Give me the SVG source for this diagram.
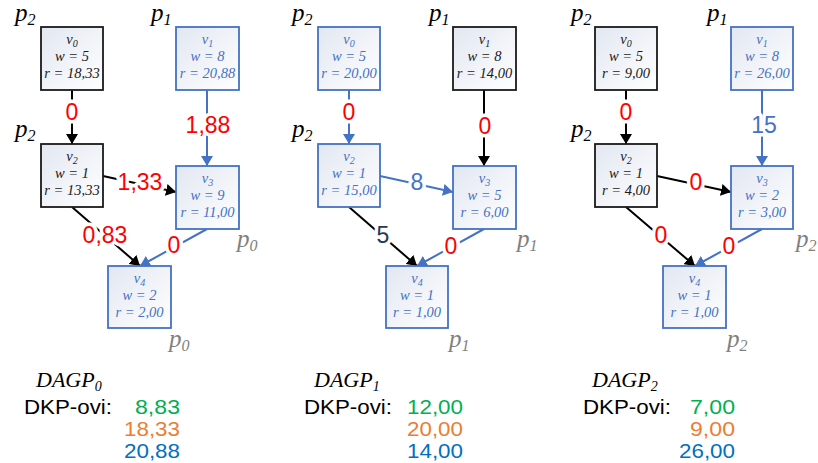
<svg xmlns="http://www.w3.org/2000/svg" width="818" height="463" viewBox="0 0 818 463">
<defs>
<linearGradient id="fill" x1="0" y1="0" x2="1" y2="1">
<stop offset="0" stop-color="#E2E7F1"/>
<stop offset="1" stop-color="#FFFFFF"/>
</linearGradient>
<marker id="ab" markerUnits="userSpaceOnUse" markerWidth="12" markerHeight="12" refX="10" refY="6" orient="auto"><path d="M0,0 L10,6 L0,12 z" fill="#000"/></marker>
<marker id="au" markerUnits="userSpaceOnUse" markerWidth="12" markerHeight="12" refX="10" refY="6" orient="auto"><path d="M0,0 L10,6 L0,12 z" fill="#4472C4"/></marker>
<style>
.node rect{fill:url(#fill);stroke-width:1.8}
.k rect{stroke:#1a1a1a}
.u rect{stroke:#4472C4}
.node text{font-family:"Liberation Serif",serif;font-style:italic;font-size:14.5px;text-anchor:middle}
.k text{fill:#1a1a1a}
.u text{fill:#4472C4}
.sub{font-size:10px}
.ek{stroke:#000;stroke-width:2;fill:none;marker-end:url(#ab)}
.eu{stroke:#4472C4;stroke-width:2;fill:none;marker-end:url(#au)}
.lbl{font-family:"Liberation Sans",Arial,sans-serif;font-size:23px;text-anchor:middle;stroke:#fff;stroke-width:7;stroke-linejoin:round;paint-order:stroke}
.red{fill:#FF0000}
.blu{fill:#4472C4}
.nav{fill:#243858}
.p{font-family:"Liberation Serif",serif;font-style:italic;font-size:25px}
.pk{fill:#000}
.pg{fill:#808080}
.ps{font-size:16px}
.dag{font-family:"Liberation Serif",serif;font-style:italic;font-size:22px;fill:#000}
.dks{font-size:14px}
.dkp{font-family:"Liberation Sans",Arial,sans-serif;font-size:20px;fill:#000}
.val{font-family:"Liberation Sans",Arial,sans-serif;font-size:20px;text-anchor:end}
.g{fill:#00B050}
.o{fill:#ED7D31}
.b{fill:#0070C0}
</style>
</defs>
<rect width="818" height="463" fill="#fff"/>

<g id="connectors">
<path class="ek" d="M72 90 V144"/>
<path class="eu" d="M207 90 V166"/>
<path class="ek" d="M103 176 L176 192"/>
<path class="ek" d="M72 207 L140 266"/>
<path class="eu" d="M207 229 L140 266"/>
<path class="eu" d="M349 90 V144"/>
<path class="ek" d="M484 90 V166"/>
<path class="eu" d="M380 176 L453 192"/>
<path class="ek" d="M349 207 L417 266"/>
<path class="eu" d="M484 229 L417 266"/>
<path class="ek" d="M626 90 V144"/>
<path class="eu" d="M762 90 V166"/>
<path class="ek" d="M657 176 L731 192"/>
<path class="ek" d="M626 207 L695 266"/>
<path class="eu" d="M762 229 L695 266"/>
<g id="edge-labels">
<text class="lbl red" x="72" y="120">0</text>
<text class="lbl red" x="208" y="133">1,88</text>
<text class="lbl red" x="140" y="190">1,33</text>
<text class="lbl red" x="105" y="243">0,83</text>
<text class="lbl red" x="174" y="253">0</text>
<text class="lbl red" x="349" y="120">0</text>
<text class="lbl red" x="485" y="134">0</text>
<text class="lbl blu" x="417" y="190">8</text>
<text class="lbl nav" x="383" y="243">5</text>
<text class="lbl red" x="451" y="254">0</text>
<text class="lbl red" x="626" y="120">0</text>
<text class="lbl blu" x="764" y="133">15</text>
<text class="lbl red" x="696" y="190">0</text>
<text class="lbl red" x="661" y="243">0</text>
<text class="lbl red" x="729" y="254">0</text>
</g>
</g>

<g id="d0-v0" class="node k" transform="translate(41,27)"><rect width="62" height="63"/>
<text x="31" y="17">v<tspan class="sub" dy="3">0</tspan></text><text x="31" y="34">w = 5</text><text x="31" y="51">r = 18,33</text></g>
<g id="d0-v1" class="node u" transform="translate(176,27)"><rect width="63" height="63"/>
<text x="31.5" y="17">v<tspan class="sub" dy="3">1</tspan></text><text x="31.5" y="34">w = 8</text><text x="31.5" y="51">r = 20,88</text></g>
<g id="d0-v2" class="node k" transform="translate(41,144)"><rect width="62" height="63"/>
<text x="31" y="17">v<tspan class="sub" dy="3">2</tspan></text><text x="31" y="34">w = 1</text><text x="31" y="51">r = 13,33</text></g>
<g id="d0-v3" class="node u" transform="translate(176,166)"><rect width="63" height="63"/>
<text x="31.5" y="17">v<tspan class="sub" dy="3">3</tspan></text><text x="31.5" y="34">w = 9</text><text x="31.5" y="51">r = 11,00</text></g>
<g id="d0-v4" class="node u" transform="translate(108,266)"><rect width="63" height="62"/>
<text x="31.5" y="17">v<tspan class="sub" dy="3">4</tspan></text><text x="31.5" y="34">w = 2</text><text x="31.5" y="51">r = 2,00</text></g>

<g id="d1-v0" class="node u" transform="translate(318,27)"><rect width="62" height="63"/>
<text x="31" y="17">v<tspan class="sub" dy="3">0</tspan></text><text x="31" y="34">w = 5</text><text x="31" y="51">r = 20,00</text></g>
<g id="d1-v1" class="node k" transform="translate(453,27)"><rect width="63" height="63"/>
<text x="31.5" y="17">v<tspan class="sub" dy="3">1</tspan></text><text x="31.5" y="34">w = 8</text><text x="31.5" y="51">r = 14,00</text></g>
<g id="d1-v2" class="node u" transform="translate(318,144)"><rect width="62" height="63"/>
<text x="31" y="17">v<tspan class="sub" dy="3">2</tspan></text><text x="31" y="34">w = 1</text><text x="31" y="51">r = 15,00</text></g>
<g id="d1-v3" class="node u" transform="translate(453,166)"><rect width="63" height="63"/>
<text x="31.5" y="17">v<tspan class="sub" dy="3">3</tspan></text><text x="31.5" y="34">w = 5</text><text x="31.5" y="51">r = 6,00</text></g>
<g id="d1-v4" class="node u" transform="translate(386,266)"><rect width="62" height="62"/>
<text x="31" y="17">v<tspan class="sub" dy="3">4</tspan></text><text x="31" y="34">w = 1</text><text x="31" y="51">r = 1,00</text></g>

<g id="d2-v0" class="node k" transform="translate(595,27)"><rect width="62" height="63"/>
<text x="31" y="17">v<tspan class="sub" dy="3">0</tspan></text><text x="31" y="34">w = 5</text><text x="31" y="51">r = 9,00</text></g>
<g id="d2-v1" class="node u" transform="translate(731,27)"><rect width="62" height="63"/>
<text x="31" y="17">v<tspan class="sub" dy="3">1</tspan></text><text x="31" y="34">w = 8</text><text x="31" y="51">r = 26,00</text></g>
<g id="d2-v2" class="node k" transform="translate(595,144)"><rect width="62" height="63"/>
<text x="31" y="17">v<tspan class="sub" dy="3">2</tspan></text><text x="31" y="34">w = 1</text><text x="31" y="51">r = 4,00</text></g>
<g id="d2-v3" class="node u" transform="translate(731,166)"><rect width="62" height="63"/>
<text x="31" y="17">v<tspan class="sub" dy="3">3</tspan></text><text x="31" y="34">w = 2</text><text x="31" y="51">r = 3,00</text></g>
<g id="d2-v4" class="node u" transform="translate(663,266)"><rect width="63" height="62"/>
<text x="31.5" y="17">v<tspan class="sub" dy="3">4</tspan></text><text x="31.5" y="34">w = 1</text><text x="31.5" y="51">r = 1,00</text></g>

<g id="proc-labels">
<text class="p pk" x="15" y="21">p<tspan class="ps" dy="4">2</tspan></text>
<text class="p pk" x="151" y="21">p<tspan class="ps" dy="4">1</tspan></text>
<text class="p pk" x="15" y="137">p<tspan class="ps" dy="4">2</tspan></text>
<text class="p pg" x="237" y="247">p<tspan class="ps" dy="4">0</tspan></text>
<text class="p pg" x="169" y="347">p<tspan class="ps" dy="4">0</tspan></text>

<text class="p pk" x="292" y="21">p<tspan class="ps" dy="4">2</tspan></text>
<text class="p pk" x="429" y="21">p<tspan class="ps" dy="4">1</tspan></text>
<text class="p pk" x="292" y="137">p<tspan class="ps" dy="4">2</tspan></text>
<text class="p pg" x="517" y="247">p<tspan class="ps" dy="4">1</tspan></text>
<text class="p pg" x="449" y="347">p<tspan class="ps" dy="4">1</tspan></text>

<text class="p pk" x="571" y="21">p<tspan class="ps" dy="4">2</tspan></text>
<text class="p pk" x="707" y="21">p<tspan class="ps" dy="4">1</tspan></text>
<text class="p pk" x="571" y="137">p<tspan class="ps" dy="4">2</tspan></text>
<text class="p pg" x="796" y="247">p<tspan class="ps" dy="4">2</tspan></text>
<text class="p pg" x="727" y="347">p<tspan class="ps" dy="4">2</tspan></text>
</g>

<g id="summary-0">
<text class="dag" x="36" y="387">DAGP<tspan class="dks" dy="4">0</tspan></text>
<text class="dkp" x="24" y="414" textLength="88" lengthAdjust="spacingAndGlyphs">DKP-ovi:</text>
<text class="val g" x="180" y="414" textLength="45" lengthAdjust="spacingAndGlyphs">8,83</text>
<text class="val o" x="180" y="436" textLength="56" lengthAdjust="spacingAndGlyphs">18,33</text>
<text class="val b" x="180" y="458" textLength="56" lengthAdjust="spacingAndGlyphs">20,88</text>
</g>
<g id="summary-1">
<text class="dag" x="314" y="387">DAGP<tspan class="dks" dy="4">1</tspan></text>
<text class="dkp" x="304" y="414" textLength="88" lengthAdjust="spacingAndGlyphs">DKP-ovi:</text>
<text class="val g" x="463" y="414" textLength="56" lengthAdjust="spacingAndGlyphs">12,00</text>
<text class="val o" x="463" y="436" textLength="56" lengthAdjust="spacingAndGlyphs">20,00</text>
<text class="val b" x="463" y="458" textLength="56" lengthAdjust="spacingAndGlyphs">14,00</text>
</g>
<g id="summary-2">
<text class="dag" x="592" y="387">DAGP<tspan class="dks" dy="4">2</tspan></text>
<text class="dkp" x="583" y="414" textLength="88" lengthAdjust="spacingAndGlyphs">DKP-ovi:</text>
<text class="val g" x="735" y="414" textLength="45" lengthAdjust="spacingAndGlyphs">7,00</text>
<text class="val o" x="735" y="436" textLength="45" lengthAdjust="spacingAndGlyphs">9,00</text>
<text class="val b" x="735" y="458" textLength="56" lengthAdjust="spacingAndGlyphs">26,00</text>
</g>
</svg>
